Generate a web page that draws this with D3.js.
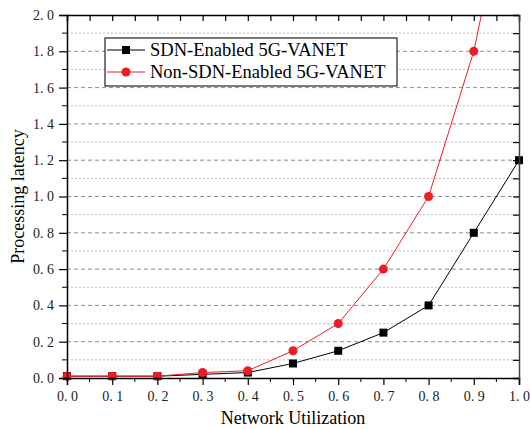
<!DOCTYPE html>
<html>
<head>
<meta charset="utf-8">
<script src="https://cdn.jsdelivr.net/npm/d3@7"></script>
<style>
  body { margin: 0; background: #fff; }
</style>
</head>
<body>
<div id="chart"></div>
<script>
// data
const utilization = [0.0, 0.1, 0.2, 0.3, 0.4, 0.5, 0.6, 0.7, 0.8, 0.9, 1.0];
const sdnLatency = [0.01, 0.01, 0.01, 0.02, 0.03, 0.08, 0.15, 0.25, 0.4, 0.8, 1.2];
const nonSdnLatency = [0.01, 0.01, 0.01, 0.03, 0.04, 0.15, 0.3, 0.6, 1.0, 1.8, 3.0];
const seriesNames = ["SDN-Enabled 5G-VANET", "Non-SDN-Enabled 5G-VANET"];
const xTicks = [0, 0.1, 0.2, 0.3, 0.4, 0.5, 0.6, 0.7, 0.8, 0.9, 1.0];
const yTicks = [0, 0.2, 0.4, 0.6, 0.8, 1.0, 1.2, 1.4, 1.6, 1.8, 2.0];

const FONT = "Liberation Serif";

const W = 530, H = 429;
const margin = { top: 15, right: 11, bottom: 51, left: 67 };
const width = W - margin.left - margin.right;
const height = H - margin.top - margin.bottom;

const svg = d3.select("#chart").append("svg")
  .attr("width", W).attr("height", H);

const g = svg.append("g")
  .attr("transform", `translate(${margin.left},${margin.top})`);

const x = d3.scaleLinear().domain([0, 1]).range([0, width]);
const y = d3.scaleLinear().domain([0, 2]).range([height, 0]);

const fmt = (d) => d3.format(".1f")(d).replace(".", ". ");

// grid lines
const minorY = d3.range(0.1, 2.0, 0.2);
g.selectAll(".gminor").data(minorY).enter().append("line")
  .attr("x1", 0).attr("x2", width)
  .attr("y1", (d) => y(d)).attr("y2", (d) => y(d))
  .attr("stroke", "#bdbdbd").attr("stroke-width", 1)
  .attr("stroke-dasharray", "2,2");
g.selectAll(".gmajor").data(yTicks.slice(1, -1)).enter().append("line")
  .attr("x1", 0).attr("x2", width)
  .attr("y1", (d) => y(d)).attr("y2", (d) => y(d))
  .attr("stroke", "#8c8c8c").attr("stroke-width", 1)
  .attr("stroke-dasharray", "4,3");

// clip
svg.append("defs").append("clipPath").attr("id", "clip")
  .append("rect").attr("x", -6).attr("y", 0).attr("width", width + 12).attr("height", height + 6);

const plot = g.append("g").attr("clip-path", "url(#clip)");

const line = d3.line().x((d) => x(d[0])).y((d) => y(d[1]));
const sdnPts = utilization.map((u, i) => [u, sdnLatency[i]]);
const nonPts = utilization.map((u, i) => [u, nonSdnLatency[i]]);

plot.append("path").datum(sdnPts).attr("d", line)
  .attr("fill", "none").attr("stroke", "#000").attr("stroke-width", 1);
plot.selectAll(".sq").data(sdnPts).enter().append("rect")
  .attr("x", (d) => x(d[0]) - 4).attr("y", (d) => y(d[1]) - 4)
  .attr("width", 8).attr("height", 8).attr("fill", "#000");

plot.append("path").datum(nonPts).attr("d", line)
  .attr("fill", "none").attr("stroke", "#ee1c25").attr("stroke-width", 1);
plot.selectAll(".ci").data(nonPts).enter().append("circle")
  .attr("cx", (d) => x(d[0])).attr("cy", (d) => y(d[1]))
  .attr("r", 4.5).attr("fill", "#ee1c25");

// axes
const axBottom = g.append("g").attr("transform", `translate(0,${height})`)
  .call(d3.axisBottom(x).tickValues(xTicks).tickFormat(fmt).tickSize(7).tickPadding(6));
axBottom.append("g").selectAll("line").data(d3.range(0.05, 1, 0.1)).enter().append("line")
  .attr("x1", (d) => x(d)).attr("x2", (d) => x(d)).attr("y1", 0).attr("y2", 4)
  .attr("stroke", "#000");

const axLeft = g.append("g")
  .call(d3.axisLeft(y).tickValues(yTicks).tickFormat(fmt).tickSize(8).tickPadding(5));
axLeft.append("g").selectAll("line").data(minorY).enter().append("line")
  .attr("y1", (d) => y(d)).attr("y2", (d) => y(d)).attr("x1", 0).attr("x2", -5)
  .attr("stroke", "#000");

const axTop = g.append("g")
  .call(d3.axisTop(x).tickValues(d3.range(0, 1.01, 0.05)).tickFormat("").tickSize(-6));
const axRight = g.append("g").attr("transform", `translate(${width},0)`)
  .call(d3.axisRight(y).tickValues(d3.range(0, 2.01, 0.1)).tickFormat("").tickSize(-6));

[axBottom, axLeft, axTop, axRight].forEach((a) => {
  a.attr("font-family", FONT);
  a.select(".domain").attr("stroke", "#000").attr("stroke-width", 1.5);
  a.selectAll(".tick line").attr("stroke", "#000").attr("stroke-width", 1.2);
  a.selectAll("text").attr("font-size", 14).attr("fill", "#222");
});
axRight.select(".domain").attr("stroke", "#444");

// axis titles
svg.append("text")
  .attr("x", margin.left + width / 2).attr("y", 424)
  .attr("text-anchor", "middle").attr("font-size", 18)
  .attr("font-family", FONT)
  .text("Network Utilization");
svg.append("text")
  .attr("transform", `translate(24,${margin.top + height / 2}) rotate(-90)`)
  .attr("text-anchor", "middle").attr("font-size", 18)
  .attr("font-family", FONT)
  .text("Processing latency");

// legend
const lg = svg.append("g").attr("transform", "translate(105,38)");
lg.append("rect").attr("width", 292).attr("height", 48)
  .attr("fill", "#fff").attr("stroke", "#222").attr("stroke-width", 1.2);
const rows = lg.selectAll(".row").data(seriesNames).enter().append("g")
  .attr("transform", (d, i) => `translate(0,${12 + i * 22})`);
rows.append("line").attr("x1", 2).attr("x2", 40)
  .attr("stroke", (d, i) => (i === 0 ? "#000" : "#ee1c25"));
rows.filter((d, i) => i === 0).append("rect")
  .attr("x", 17).attr("y", -4).attr("width", 8).attr("height", 8).attr("fill", "#000");
rows.filter((d, i) => i === 1).append("circle")
  .attr("cx", 21).attr("r", 4.5).attr("fill", "#ee1c25");
rows.append("text").attr("x", 45).attr("y", 6)
  .attr("font-size", 18.5).attr("font-family", FONT).text((d) => d);
</script>
</body>
</html>
